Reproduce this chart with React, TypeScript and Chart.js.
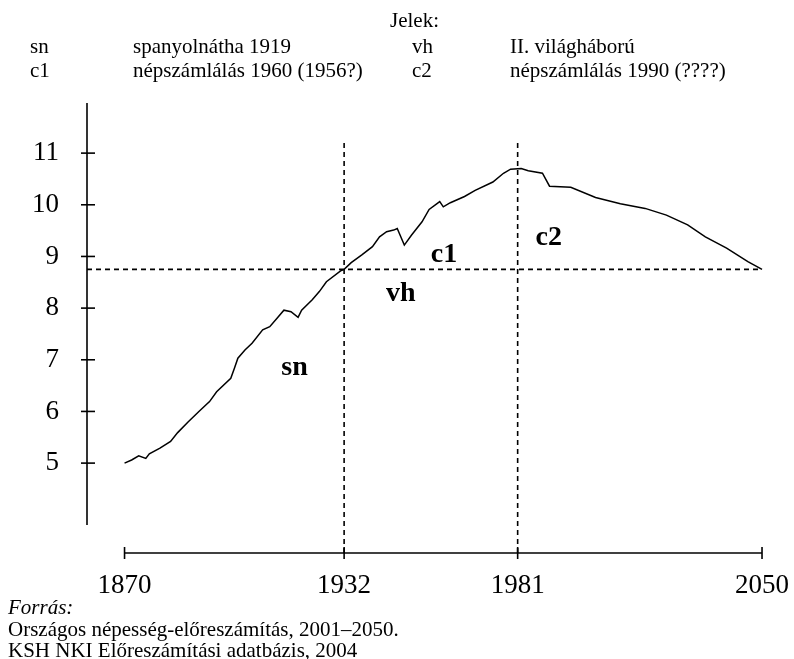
import React, { useEffect, useRef } from "react";
import { Chart, registerables } from "chart.js";

Chart.register(...registerables);

// ---- Data ----
const years = [
  1870, 1872, 1874, 1876, 1877, 1880, 1883, 1885, 1888, 1891, 1894, 1896, 1900, 1901, 1902,
  1904, 1906, 1909, 1911, 1913, 1915, 1917, 1919, 1920, 1923, 1925, 1927, 1931, 1932, 1934,
  1937, 1940, 1942, 1944, 1946, 1947, 1949, 1951, 1954, 1956, 1959, 1960, 1962, 1966, 1969,
  1974, 1977, 1979, 1982, 1984, 1988, 1990, 1996, 2003, 2010, 2017, 2023, 2029, 2034, 2040,
  2046, 2050,
];
const population = [
  5.0, 5.06, 5.14, 5.09, 5.18, 5.29, 5.42, 5.59, 5.8, 6.0, 6.19, 6.38, 6.64, 6.83, 7.03,
  7.19, 7.32, 7.58, 7.64, 7.8, 7.96, 7.93, 7.82, 7.96, 8.16, 8.32, 8.51, 8.72, 8.75, 8.88,
  9.03, 9.19, 9.38, 9.48, 9.51, 9.54, 9.22, 9.41, 9.67, 9.91, 10.06, 9.96, 10.04, 10.16, 10.28,
  10.44, 10.61, 10.69, 10.7, 10.66, 10.61, 10.36, 10.34, 10.14, 10.02, 9.93, 9.8, 9.61, 9.38, 9.16,
  8.9, 8.75,
];
const xTickYears = [1870, 1932, 1981, 2050];
const yTickValues = [5, 6, 7, 8, 9, 10, 11];
const refYears = [1932, 1981];
const refLevel = 8.75;
const refTop = 11.25;

const markerLabels = ["sn", "vh", "c1", "c2"];
const markerYears = [1918, 1948, 1960.2, 1989.8];
const markerValues = [6.7, 8.14, 8.89, 9.22];

const legendTitle = "Jelek:";
const legendCodesLeft = ["sn", "c1"];
const legendTextLeft = ["spanyolnátha 1919", "népszámlálás 1960 (1956?)"];
const legendCodesRight = ["vh", "c2"];
const legendTextRight = ["II. világháború", "népszámlálás 1990 (????)"];
const sourceTitle = "Forrás:";
const sourceLines = [
  "Országos népesség-előreszámítás, 2001–2050.",
  "KSH NKI Előreszámítási adatbázis, 2004",
];

// scale ranges
const X_MIN = 1859.4;
const X_MAX = 2057.9;
const Y_MIN = 3.26;
const Y_MAX = 11.97;
const Y_AXIS_BOTTOM = 3.8;

const SERIF = "'Liberation Serif', 'Times New Roman', serif";

const axesPlugin = {
  id: "customAxes",
  beforeDatasetsDraw(chart: any) {
    const { ctx, chartArea } = chart;
    const xs = chart.scales.x;
    const ys = chart.scales.y;
    ctx.save();
    ctx.strokeStyle = "#000";
    ctx.lineWidth = 1.6;
    // y axis
    const ax = chartArea.left;
    ctx.beginPath();
    ctx.moveTo(ax, ys.getPixelForValue(Y_MAX));
    ctx.lineTo(ax, ys.getPixelForValue(Y_AXIS_BOTTOM));
    ctx.stroke();
    for (const v of yTickValues) {
      const py = ys.getPixelForValue(v);
      ctx.beginPath();
      ctx.moveTo(ax - 6, py);
      ctx.lineTo(ax + 8, py);
      ctx.stroke();
    }
    // x axis
    const by = chartArea.bottom;
    ctx.beginPath();
    ctx.moveTo(xs.getPixelForValue(xTickYears[0]), by);
    ctx.lineTo(xs.getPixelForValue(xTickYears[xTickYears.length - 1]), by);
    ctx.stroke();
    for (const t of xTickYears) {
      const px = xs.getPixelForValue(t);
      ctx.beginPath();
      ctx.moveTo(px, by - 6);
      ctx.lineTo(px, by + 6);
      ctx.stroke();
    }
    ctx.restore();
  },
  afterDraw(chart: any) {
    const { ctx } = chart;
    const xs = chart.scales.x;
    const ys = chart.scales.y;
    ctx.save();
    ctx.fillStyle = "#000";
    // markers on the chart
    ctx.font = `bold 28px ${SERIF}`;
    ctx.textAlign = "center";
    ctx.textBaseline = "alphabetic";
    markerLabels.forEach((lab, i) => {
      ctx.fillText(lab, xs.getPixelForValue(markerYears[i]), ys.getPixelForValue(markerValues[i]));
    });
    // legend header
    ctx.textAlign = "left";
    ctx.font = `21px ${SERIF}`;
    ctx.fillText(legendTitle, 390, 27);
    const rows = [53, 77];
    legendCodesLeft.forEach((c, i) => ctx.fillText(c, 30, rows[i]));
    legendTextLeft.forEach((t, i) => ctx.fillText(t, 133, rows[i]));
    legendCodesRight.forEach((c, i) => ctx.fillText(c, 412, rows[i]));
    legendTextRight.forEach((t, i) => ctx.fillText(t, 510, rows[i]));
    // source
    ctx.font = `italic 21px ${SERIF}`;
    ctx.fillText(sourceTitle, 8, 614);
    ctx.font = `21px ${SERIF}`;
    sourceLines.forEach((l, i) => ctx.fillText(l, 8, 636 + i * 21));
    ctx.restore();
  },
};

export default function App() {
  const canvasRef = useRef<HTMLCanvasElement | null>(null);

  useEffect(() => {
    if (!canvasRef.current) return;
    const dash = [5, 4];
    const refDatasets = refYears.map((yr) => ({
      data: [
        { x: yr, y: Y_MIN },
        { x: yr, y: refTop },
      ],
      borderColor: "#000",
      borderWidth: 1.6,
      borderDash: dash,
      pointRadius: 0,
      fill: false,
    }));
    const chart = new Chart(canvasRef.current, {
      type: "line",
      data: {
        datasets: [
          {
            data: years.map((y, i) => ({ x: y, y: population[i] })),
            borderColor: "#000",
            borderWidth: 1.5,
            pointRadius: 0,
            tension: 0,
            fill: false,
          },
          ...refDatasets,
          {
            data: [
              { x: X_MIN, y: refLevel },
              { x: xTickYears[xTickYears.length - 1], y: refLevel },
            ],
            borderColor: "#000",
            borderWidth: 1.6,
            borderDash: dash,
            pointRadius: 0,
            fill: false,
          },
        ],
      },
      options: {
        animation: false,
        responsive: false,
        maintainAspectRatio: false,
        layout: { padding: { top: 103, left: 0, right: 4, bottom: 0 } },
        plugins: {
          legend: { display: false },
          tooltip: { enabled: false },
          title: { display: false },
        },
        scales: {
          x: {
            type: "linear",
            min: X_MIN,
            max: X_MAX,
            grid: { display: false, drawTicks: false },
            border: { display: false },
            afterBuildTicks: (s: any) => {
              s.ticks = xTickYears.map((v) => ({ value: v }));
            },
            afterFit: (s: any) => {
              s.height = 106;
              s.paddingLeft = 0;
              s.paddingRight = 0;
            },
            ticks: {
              color: "#000",
              font: { family: SERIF, size: 27, lineHeight: 1 },
              padding: 19,
              maxRotation: 0,
              autoSkip: false,
              callback: (v: any) => String(v),
            },
          },
          y: {
            type: "linear",
            min: Y_MIN,
            max: Y_MAX,
            grid: { display: false, drawTicks: false },
            border: { display: false },
            afterBuildTicks: (s: any) => {
              s.ticks = yTickValues.map((v) => ({ value: v }));
            },
            afterFit: (s: any) => {
              s.width = 87;
              s.paddingTop = 0;
              s.paddingBottom = 0;
            },
            ticks: {
              color: "#000",
              font: { family: SERIF, size: 27, lineHeight: 1 },
              padding: 28,
              autoSkip: false,
              callback: (v: any) => String(v),
            },
          },
        },
      },
      plugins: [axesPlugin],
    } as any);
    return () => chart.destroy();
  }, []);

  return (
    <div style={{ position: "fixed", left: 0, top: 0, width: 794, height: 659, background: "#fff" }}>
      <canvas ref={canvasRef} width={794} height={659} style={{ display: "block" }} />
    </div>
  );
}
